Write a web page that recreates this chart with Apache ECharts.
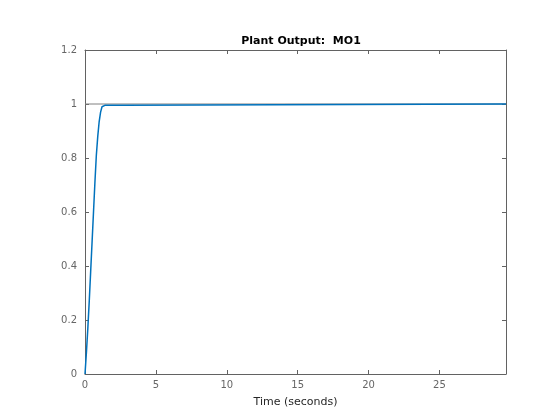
<!DOCTYPE html>
<html>
<head>
<meta charset="utf-8">
<script src="https://cdn.jsdelivr.net/npm/echarts@6/dist/echarts.min.js"></script>
<style>html,body{margin:0;padding:0;background:#fff}#c{width:560px;height:420px}</style>
</head>
<body>
<div id="c"></div>
<script>
var timeVals = [0, 0.1, 0.2, 0.3, 0.4, 0.5, 0.6, 0.7, 0.8, 0.9, 1.0, 1.1, 1.2, 1.3, 1.4, 2.7, 2.8, 29.7];
var outputVals = [0, 0.08, 0.17, 0.27, 0.38, 0.49, 0.6, 0.71, 0.81, 0.88, 0.935, 0.97, 0.99, 0.997, 0.995, 0.995, 1, 1];
var refTime = [0, 29.7];
var refVals = [1, 1];
var xTicks = [0, 5, 10, 15, 20, 25];
var yTicks = [0, 0.2, 0.4, 0.6, 0.8, 1, 1.2];

var outData = timeVals.map(function (t, i) { return [t, outputVals[i]]; });
var refData = refTime.map(function (t, i) { return [t, refVals[i]]; });

var axisCol = '#626262';
var labelCol = '#666666';
var font = 'DejaVu Sans';

function mkX(pos, labels) {
  return {
    type: 'value', position: pos, min: 0, max: 29.7, interval: 5,
    axisLine: {show: true, onZero: false, lineStyle: {color: axisCol, width: 1}},
    axisTick: {show: true, inside: true, length: 4, lineStyle: {color: axisCol}},
    axisLabel: {show: labels, showMaxLabel: false, fontFamily: font, fontSize: 10, color: labelCol, margin: 6,
      formatter: function (v) { return xTicks.indexOf(v) >= 0 ? String(v) : ''; }},
    splitLine: {show: false}
  };
}
function mkY(pos, labels) {
  return {
    type: 'value', position: pos, min: 0, max: 1.2, interval: 0.2,
    axisLine: {show: true, onZero: false, lineStyle: {color: axisCol, width: 1}},
    axisTick: {show: true, inside: true, length: 4, lineStyle: {color: axisCol}},
    axisLabel: {show: labels, fontFamily: font, fontSize: 10, color: labelCol, margin: 8,
      formatter: function (v) { var r = Math.round(v * 10) / 10; return yTicks.indexOf(r) >= 0 ? String(r) : ''; }},
    splitLine: {show: false}
  };
}

var x0 = mkX('bottom', true);
x0.name = 'Time (seconds)';
x0.nameLocation = 'middle';
x0.nameGap = 23;
x0.nameTextStyle = {fontFamily: font, fontSize: 11, color: '#262626'};

var chart = echarts.init(document.getElementById('c'), null, {renderer: 'canvas'});
chart.setOption({
  animation: false,
  backgroundColor: '#fff',
  title: {
    text: 'Plant Output:  MO1',
    left: 296, top: 31, textAlign: 'center',
    textStyle: {fontFamily: font, fontSize: 11, fontWeight: 'bold', color: '#000'}
  },
  grid: {left: 85, right: 54, top: 50, bottom: 46, containLabel: false},
  xAxis: [x0, mkX('top', false)],
  yAxis: [mkY('left', true), mkY('right', false)],
  series: [{
    type: 'line', name: 'Reference', data: refData, xAxisIndex: 1, yAxisIndex: 1,
    showSymbol: false, symbol: 'none',
    lineStyle: {color: '#808080', width: 1}, z: 2
  }, {
    type: 'line', name: 'MO1', data: outData, xAxisIndex: 0, yAxisIndex: 0,
    showSymbol: false, symbol: 'none',
    lineStyle: {color: '#0072BD', width: 1.5}, z: 3
  }]
});
</script>
</body>
</html>
